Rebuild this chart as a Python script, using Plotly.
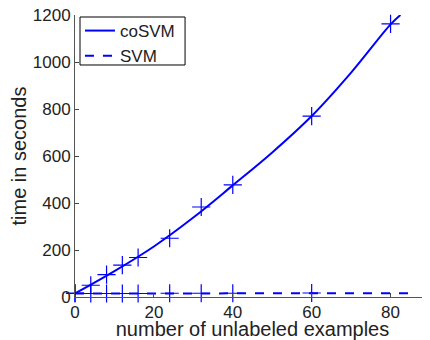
import plotly.graph_objects as go

# measured points
x_pts = [0, 4, 8, 12, 16, 24, 32, 40, 60, 80]
cosvm_pts = [17, 50, 95, 136, 168, 250, 383, 477, 770, 1162]
x_svm_pts = [0, 4, 8, 12, 16, 24, 32, 40, 60]
svm_pts = [15, 15, 15, 15, 15, 16, 16, 16, 17]

# fitted curves
x_curve = [0, 10, 20, 30, 40, 50, 60, 70, 80, 82.5]
cosvm_curve = [15, 110, 215, 338, 475, 615, 770, 955, 1160, 1200]
x_svm_line = [0, 85]
svm_line = [15, 16]

x_ticks = [0, 20, 40, 60, 80]
y_ticks = [0, 200, 400, 600, 800, 1000, 1200]

blue = "#0000ff"
font = "Liberation Sans, Arial, sans-serif"

fig = go.Figure()
fig.add_trace(go.Scatter(x=x_curve, y=cosvm_curve, mode="lines", name="coSVM",
                         line=dict(color=blue, width=2, shape="spline")))
fig.add_trace(go.Scatter(x=x_svm_line, y=svm_line, mode="lines", name="SVM",
                         line=dict(color=blue, width=2, dash="dash")))
fig.add_trace(go.Scatter(x=x_pts, y=cosvm_pts, mode="markers", showlegend=False,
                         marker=dict(symbol="cross-thin", size=13, line=dict(color=blue, width=1.2))))
fig.add_trace(go.Scatter(x=x_svm_pts, y=svm_pts, mode="markers", showlegend=False,
                         marker=dict(symbol="cross-thin", size=13, line=dict(color=blue, width=1.2))))

# page body has an 8px default margin, so the figure is offset by (8, 8)
fig.update_layout(
    width=422, height=332,
    margin=dict(l=67, r=0, t=7, b=43),
    paper_bgcolor="white", plot_bgcolor="white",
    font=dict(family=font, size=17, color="#222"),
    showlegend=True,
    legend=dict(x=0.014, y=1.007, xanchor="left", yanchor="top",
                borderwidth=0, bgcolor="rgba(0,0,0,0)",
                font=dict(size=17, color="#222"), tracegroupgap=0,
                itemwidth=30),
    shapes=[dict(type="rect", xref="paper", yref="paper",
                 x0=0.0141, x1=0.31, y0=0.8227, y1=0.9929,
                 line=dict(color="black", width=1), fillcolor="rgba(0,0,0,0)",
                 layer="above")],
    xaxis=dict(range=[0, 90], tickvals=x_ticks, ticks="inside", ticklen=4,
               tickcolor="#444", showline=True, linecolor="#555", linewidth=1,
               showgrid=False, zeroline=False, automargin=False,
               ticklabelstandoff=0, ticklabeloverflow="allow",
               title=dict(text="number of unlabeled examples", standoff=2)),
    yaxis=dict(range=[0, 1200], tickvals=y_ticks, ticks="inside", ticklen=4,
               tickcolor="#444", showline=True, linecolor="#555", linewidth=1,
               showgrid=False, zeroline=False, automargin=False,
               ticklabelstandoff=0, ticklabeloverflow="allow",
               title=dict(text="time in seconds", standoff=0)),
)
fig.update_traces(cliponaxis=False)

fig.write_html("out.html")
